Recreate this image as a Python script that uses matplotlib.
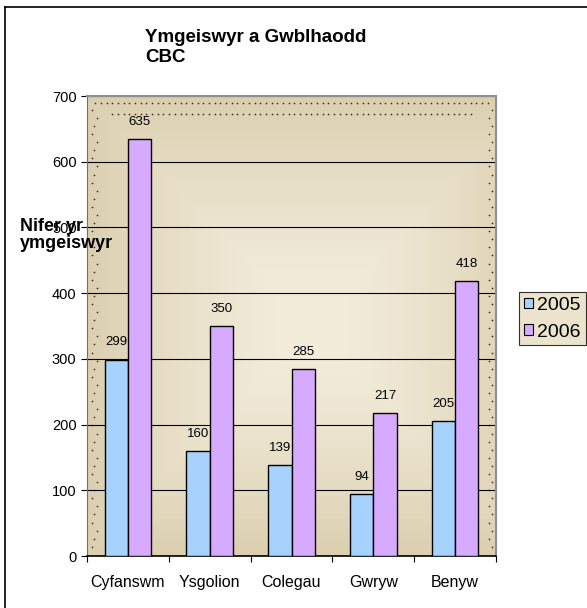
import numpy as np
import matplotlib
matplotlib.use("Agg")
import matplotlib.pyplot as plt
from matplotlib.patches import Patch

categories = ["Cyfanswm", "Ysgolion", "Colegau", "Gwryw", "Benyw"]
vals_2005 = [299, 160, 139, 94, 205]
vals_2006 = [635, 350, 285, 217, 418]
series_names = ["2005", "2006"]
yticks = [0, 100, 200, 300, 400, 500, 600, 700]

c2005 = "#a6d2fd"
c2006 = "#d6aaff"
tan = "#dccfb0"

plt.rcParams['font.family'] = ['Liberation Sans', 'DejaVu Sans']

fig = plt.figure(figsize=(5.87, 6.08), dpi=100)

# outer chart frame (only top/left edges visible)
fig.add_artist(plt.Line2D([5 / 587, 5 / 587], [0, 1 - 7 / 608], transform=fig.transFigure, color="black", lw=1.2))
fig.add_artist(plt.Line2D([5 / 587, 1], [1 - 7 / 608, 1 - 7 / 608], transform=fig.transFigure, color="black", lw=1.2))

ax = fig.add_axes([87 / 587, 52 / 608, 409 / 587, 460 / 608])

# gradient background of the plot area
ny, nx = 200, 200
yy, xx = np.mgrid[0:1:ny * 1j, 0:1:nx * 1j]
d = np.maximum(np.abs(xx - 0.55) / 0.55, np.abs(yy - 0.5) / 0.5)
d = np.clip(d, 0, 1) ** 1.5
edge = np.array(matplotlib.colors.to_rgb(tan))
center = np.array(matplotlib.colors.to_rgb("#f3eddc"))
img = center[None, None, :] * (1 - d[..., None]) + edge[None, None, :] * d[..., None]
ax.imshow(img, extent=[0, 1, 0, 1], transform=ax.transAxes, aspect="auto", zorder=0)

# dotted texture near the border
dot_kw = dict(transform=ax.transAxes, s=1.5, color="#3a3020", zorder=0.5, lw=0)
xs = np.linspace(0.02, 0.98, 70)
ax.scatter(xs, np.full_like(xs, 0.985), **dot_kw)
ax.scatter(xs[3:-3], np.full_like(xs[3:-3], 0.96), **dot_kw)
ys = np.linspace(0.02, 0.97, 55)
ax.scatter(np.full_like(ys, 0.012) + 0.006 * (np.arange(len(ys)) % 3), ys, **dot_kw)
ax.scatter(np.full_like(ys, 0.99) - 0.006 * (np.arange(len(ys)) % 2), ys, **dot_kw)

x = np.arange(len(categories))
w = 0.285
b1 = ax.bar(x - w / 2, vals_2005, w, color=c2005, edgecolor="black", lw=1.0, zorder=3)
b2 = ax.bar(x + w / 2, vals_2006, w, color=c2006, edgecolor="black", lw=1.0, zorder=3)

for bars, vals in ((b1, vals_2005), (b2, vals_2006)):
    for r, v in zip(bars, vals):
        ax.annotate(str(v), (r.get_x() + r.get_width() / 2, v), xytext=(0, 8),
                    textcoords="offset points", ha="center", va="bottom", fontsize=9.5, zorder=4)

ax.set_xlim(-0.5, len(categories) - 0.5)
ax.set_ylim(0, 700)
ax.set_yticks(yticks)
ax.yaxis.grid(True, color="black", lw=0.8, zorder=1)
ax.set_axisbelow(True)
ax.set_xticks(np.arange(len(categories) + 1) - 0.5)
ax.set_xticklabels([])
ax.set_xticks(x, minor=True)
ax.set_xticklabels(categories, minor=True, fontsize=11.5)
ax.tick_params(axis="x", which="minor", length=0, pad=14)
ax.tick_params(axis="x", which="major", direction="out", length=4, width=0.8)
ax.tick_params(axis="y", direction="out", length=4, width=0.8, labelsize=10.5)

for s in ("top", "right"):
    ax.spines[s].set_color("#909090")
    ax.spines[s].set_linewidth(1.5)
ax.spines["left"].set_color("#707070")
ax.spines["bottom"].set_linewidth(1.2)

fig.text(145 / 587, 1 - 29 / 608, "Ymgeiswyr a Gwblhaodd\nCBC", ha="left", va="top",
         fontsize=13.5, fontweight="bold", linespacing=1.2)
fig.text(20 / 587, 1 - 218 / 608, "Nifer yr\nymgeiswyr", ha="left", va="top",
         fontsize=13, fontweight="bold", linespacing=1.0, zorder=10)

handles = [Patch(facecolor=c2005, edgecolor="black", lw=0.8),
           Patch(facecolor=c2006, edgecolor="black", lw=0.8)]
leg = fig.legend(handles, series_names, loc="upper left", bbox_to_anchor=(519 / 587, 1 - 292 / 608),
                 fontsize=14, frameon=True, fancybox=False, handlelength=0.45, handleheight=0.45,
                 handletextpad=0.25, borderpad=0.25, labelspacing=0.5, borderaxespad=0)
leg.get_frame().set_facecolor("#e6dcc2")
leg.get_frame().set_edgecolor("black")
leg.get_frame().set_linewidth(0.8)

fig.savefig("out.png", dpi=100)
